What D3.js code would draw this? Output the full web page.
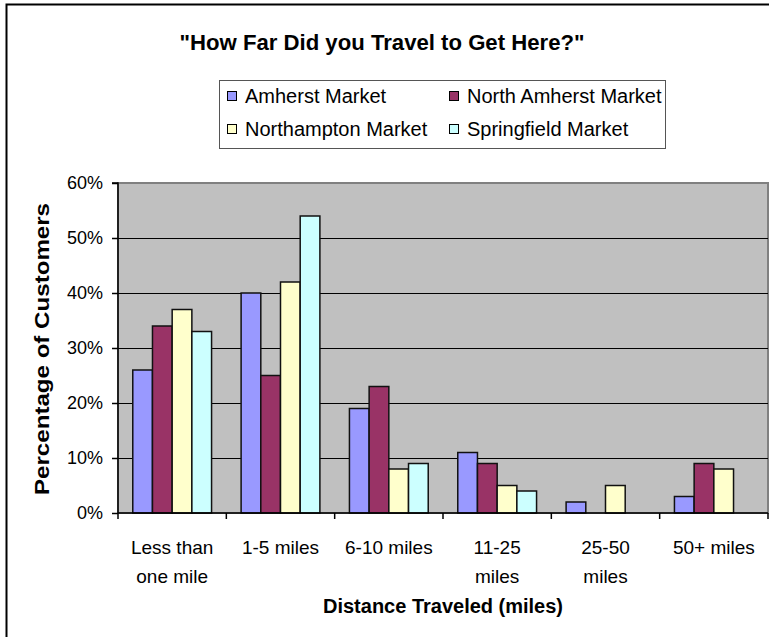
<!DOCTYPE html>
<html>
<head>
<meta charset="utf-8">
<script src="https://cdn.jsdelivr.net/npm/d3@7"></script>
<style>
  html, body { margin: 0; padding: 0; background: #fff; }
  svg { display: block; font-family: "Liberation Sans", Arial, sans-serif; }
</style>
</head>
<body>
<svg id="chart" width="769" height="637"></svg>
<script>
const categories = [["Less than", "one mile"], ["1-5 miles"], ["6-10 miles"], ["11-25", "miles"], ["25-50", "miles"], ["50+ miles"]];
const seriesNames = ["Amherst Market", "North Amherst Market", "Northampton Market", "Springfield Market"];
const seriesColors = ["#9999FF", "#993366", "#FFFFCC", "#CCFFFF"];
const amherst      = [26, 40, 19, 11, 2, 3];
const northAmherst = [34, 25, 23, 9, null, 9];
const northampton  = [37, 42, 8, 5, 5, 8];
const springfield  = [33, 54, 9, 4, null, null];
const yTicks = [0, 10, 20, 30, 40, 50, 60];

const seriesValues = [amherst, northAmherst, northampton, springfield];
const svg = d3.select("#chart");

// outer chart border (extends beyond window on right/bottom)
svg.append("rect").attr("x", 6.5).attr("y", 4.5).attr("width", 800).attr("height", 700)
  .attr("fill", "#fff").attr("stroke", "#000").attr("stroke-width", 2);

const plot = { left: 118, right: 768, top: 183, bottom: 513 };

const x0 = d3.scaleBand().domain(d3.range(categories.length)).range([plot.left, plot.right]).paddingInner(0).paddingOuter(0);
const x1 = d3.scaleBand().domain(d3.range(seriesNames.length)).range([0, x0.bandwidth()]).paddingInner(0).paddingOuter(0.75);
const y = d3.scaleLinear().domain([0, 60]).range([plot.bottom, plot.top]);

// plot background
svg.append("rect").attr("x", plot.left).attr("y", plot.top)
  .attr("width", plot.right - plot.left).attr("height", plot.bottom - plot.top)
  .attr("fill", "#C0C0C0").attr("stroke", "#808080").attr("stroke-width", 2);

// gridlines
svg.append("g").selectAll("line").data(yTicks.filter(t => t > 0 && t < 60)).join("line")
  .attr("x1", plot.left).attr("x2", plot.right)
  .attr("y1", d => Math.round(y(d)) + 0.5).attr("y2", d => Math.round(y(d)) + 0.5)
  .attr("stroke", "#000").attr("stroke-width", 1.2);

// bars
const groups = svg.append("g").selectAll("g").data(categories).join("g")
  .attr("transform", (d, i) => `translate(${x0(i)},0)`);
groups.selectAll("rect")
  .data((d, i) => seriesValues.map((s, k) => ({ k, v: s[i] })).filter(o => o.v !== null))
  .join("rect")
  .attr("x", d => x1(d.k)).attr("width", x1.bandwidth())
  .attr("y", d => y(d.v)).attr("height", d => y(0) - y(d.v))
  .attr("fill", d => seriesColors[d.k]).attr("stroke", "#111").attr("stroke-width", 1.5);

// y axis
const yAxis = d3.axisLeft(y).tickValues(yTicks).tickFormat(d => d + "%").tickSize(6).tickPadding(9);
const ya = svg.append("g").attr("transform", `translate(${plot.left},0)`).call(yAxis);
ya.select(".domain").attr("stroke", "#000").attr("stroke-width", 1.5).attr("d", `M-6,${plot.top}H0V${plot.bottom}`);
ya.selectAll(".tick line").attr("stroke", "#000").attr("stroke-width", 1.5);
ya.selectAll(".tick text").attr("font-size", 18).attr("fill", "#000").attr("font-family", "Liberation Sans, Arial, sans-serif");

// x axis
const xAxis = d3.axisBottom(x0).tickValues([]).tickSize(0);
const xa = svg.append("g").attr("transform", `translate(0,${plot.bottom})`).call(xAxis);
xa.select(".domain").attr("stroke", "#000").attr("stroke-width", 1.5).attr("d", `M${plot.left},0H${plot.right}`);
xa.selectAll("line.cat").data(d3.range(categories.length + 1)).join("line").attr("class", "cat")
  .attr("x1", i => i < categories.length ? x0(i) : plot.right).attr("x2", i => i < categories.length ? x0(i) : plot.right)
  .attr("y1", 0).attr("y2", 6).attr("stroke", "#000").attr("stroke-width", 1.5);

const xl = svg.append("g").selectAll("text").data(categories).join("text")
  .attr("x", (d, i) => x0(i) + x0.bandwidth() / 2)
  .attr("y", 554).attr("text-anchor", "middle").attr("font-size", 19).attr("fill", "#000");
xl.selectAll("tspan").data(d => d).join("tspan")
  .attr("x", function () { return d3.select(this.parentNode).attr("x"); })
  .attr("dy", (d, j) => j === 0 ? 0 : 29).text(d => d);

// titles
svg.append("text").attr("x", 382).attr("y", 50).attr("text-anchor", "middle")
  .attr("font-size", 22).attr("font-weight", "bold")
  .attr("textLength", 405).attr("lengthAdjust", "spacingAndGlyphs")
  .text('"How Far Did you Travel to Get Here?"');
svg.append("text").attr("x", 443).attr("y", 613).attr("text-anchor", "middle")
  .attr("font-size", 20).attr("font-weight", "bold")
  .attr("textLength", 240).attr("lengthAdjust", "spacingAndGlyphs")
  .text("Distance Traveled (miles)");
svg.append("text").attr("transform", "translate(49,349) rotate(-90)").attr("text-anchor", "middle")
  .attr("font-size", 20).attr("font-weight", "bold")
  .attr("textLength", 292).attr("lengthAdjust", "spacingAndGlyphs")
  .text("Percentage of Customers");

// legend
const lg = svg.append("g");
lg.append("rect").attr("x", 219.5).attr("y", 80.5).attr("width", 446).attr("height", 68)
  .attr("fill", "#fff").attr("stroke", "#555").attr("stroke-width", 1);
const legendItems = seriesNames.map((n, k) => ({ n, k, col: k % 2, row: Math.floor(k / 2) }));
const li = lg.selectAll("g.item").data(legendItems).join("g").attr("class", "item")
  .attr("transform", d => `translate(${d.col === 0 ? 227 : 449},${d.row === 0 ? 96 : 129})`);
li.append("rect").attr("x", 0.5).attr("y", -4.5).attr("width", 9).attr("height", 9)
  .attr("fill", d => seriesColors[d.k]).attr("stroke", "#000").attr("stroke-width", 1);
li.append("text").attr("x", 18).attr("y", 7).attr("font-size", 20).attr("fill", "#000").text(d => d.n);
</script>
</body>
</html>
